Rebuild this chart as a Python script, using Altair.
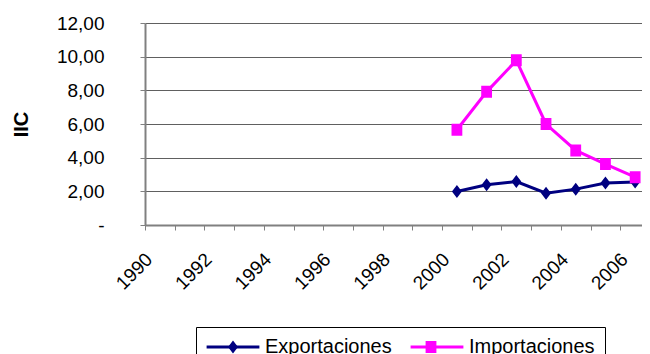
import altair as alt
import pandas as pd

years_axis = [str(y) for y in range(1990, 2007)]
data_years = ["2000", "2001", "2002", "2003", "2004", "2005", "2006"]
exportaciones = [1.99, 2.39, 2.58, 1.89, 2.13, 2.49, 2.55]
importaciones = [5.66, 7.91, 9.78, 6.00, 4.43, 3.62, 2.84]
series_names = ["Exportaciones", "Importaciones"]
series_colors = ["#000080", "#FF00FF"]

rows = []
for y, v in zip(data_years, exportaciones):
    rows.append({"year": y, "serie": "Exportaciones", "value": v})
for y, v in zip(data_years, importaciones):
    rows.append({"year": y, "serie": "Importaciones", "value": v})
df = pd.DataFrame(rows)

FONT = "Liberation Sans"
# marker paths: an (invisible when only filled) horizontal segment + the marker,
# so the same shapes serve both the plot points and the legend symbols
SHAPE_EXP = "M-4.4,0L4.4,0M0,-1.08L0.83,0L0,1.08L-0.83,0Z"
SHAPE_IMP = "M-4.4,0L4.4,0M-0.9,-1H0.9V1H-0.9Z"
LEG_LINE = "M-4.4,0L4.4,0"
ZERO_LABEL = "-" + "\u00a0" * 4

x_enc = alt.X(
    "year:O",
    scale=alt.Scale(domain=years_axis, range=[0, 505], paddingInner=0, paddingOuter=0),
    axis=alt.Axis(
        title=None,
        labelExpr="parseInt(datum.value) % 2 == 0 ? datum.label : ''",
        labelAngle=315,
        labelAlign="right",
        labelBaseline="middle",
        labelPadding=26,
        labelOffset=-11,
        labelOverlap=False,
        labelFont=FONT,
        labelFontSize=19,
        labelColor="#000000",
        tickBand="extent",
        tickSize=5,
        tickColor="#808080",
        tickWidth=1,
        domainColor="#808080",
        domainWidth=2,
        grid=False,
    ),
)
y_enc = alt.Y(
    "value:Q",
    scale=alt.Scale(domain=[0, 12], nice=False, zero=True),
    axis=alt.Axis(
        title="IIC",
        values=[0, 2, 4, 6, 8, 10, 12],
        labelExpr="datum.value == 0 ? '" + ZERO_LABEL + "' : replace(format(datum.value, '.2f'), '.', ',')",
        labelFont=FONT,
        labelFontSize=19,
        labelColor="#000000",
        labelPadding=36,
        tickSize=5,
        tickColor="#808080",
        domainColor="#808080",
        domainWidth=2,
        grid=True,
        gridColor="#606060",
        gridWidth=1,
        titleFont=FONT,
        titleFontSize=20,
        titleFontWeight="bold",
        titleColor="#000000",
        titleAngle=270,
        titleX=-124,
        titleY=101,
        titleAlign="center",
        titleBaseline="middle",
    ),
)

common_legend = dict(
    title=None,
    orient="none",
    legendX=51,
    legendY=304,
    direction="horizontal",
    padding=10,
    symbolSize=144,
    symbolStrokeWidth=3,
    symbolOffset=17,
    labelOffset=22,
    columnPadding=12,
    labelFont=FONT,
    labelFontSize=20,
)

legend_lines = alt.Legend(
    symbolType=LEG_LINE,
    strokeColor="#000000",
    labelColor="#000000",
    **common_legend,
)
legend_marks = alt.Legend(
    labelOpacity=0,
    labelColor="#000000",
    **common_legend,
)

lines = alt.Chart(df).mark_line(strokeWidth=3).encode(
    x=x_enc,
    y=y_enc,
    color=alt.Color("serie:N", scale=alt.Scale(domain=series_names, range=series_colors), legend=legend_lines),
)

points = alt.Chart(df).mark_point(filled=True, size=144, opacity=1, strokeWidth=0).encode(
    x=x_enc,
    y=y_enc,
    color=alt.Color("serie:N", scale=alt.Scale(domain=series_names, range=series_colors), legend=legend_marks),
    shape=alt.Shape("serie:N", scale=alt.Scale(domain=series_names, range=[SHAPE_EXP, SHAPE_IMP]), legend=legend_marks),
)

chart = (
    alt.layer(lines, points)
    .resolve_scale(color="independent", shape="independent")
    .properties(
        width=497,
        height=202,
        autosize=alt.AutoSizeParams(type="none"),
        padding={"left": 137, "top": 15, "right": 0, "bottom": 129},
        background="#FFFFFF",
    )
    .configure_view(stroke=None)
)

chart.save("out.html", embed_options={"renderer": "svg", "actions": False})
